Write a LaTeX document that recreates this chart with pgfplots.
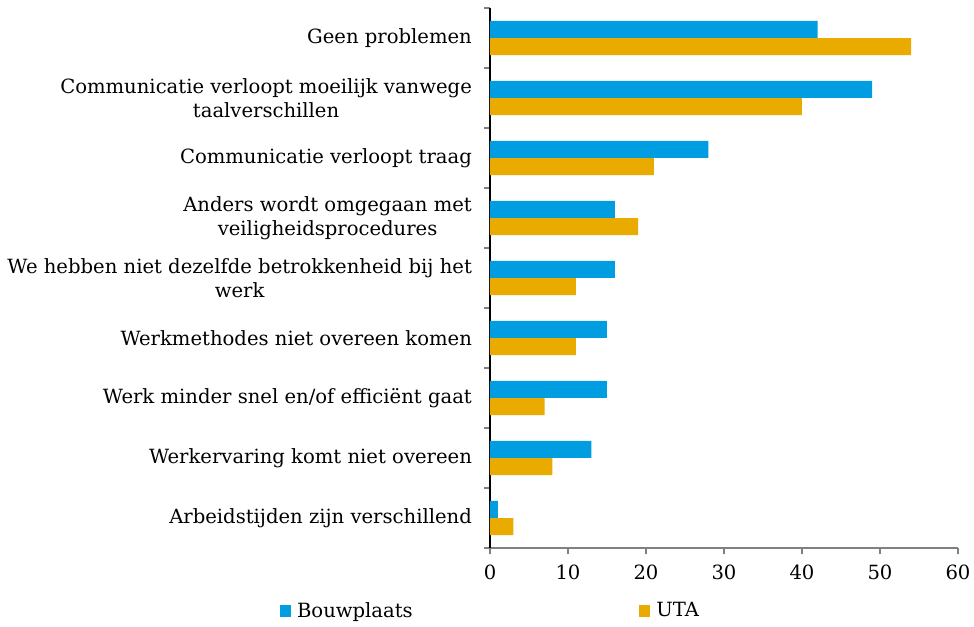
\documentclass[border=0pt]{standalone}
\usepackage{pgfplots}
\pgfplotsset{compat=1.18}
\usepackage{fontspec}
\setmainfont{DejaVu Serif}
\definecolor{cblue}{RGB}{0,157,224}
\definecolor{corange}{RGB}{233,171,0}
\definecolor{axgray}{RGB}{128,128,128}
\begin{document}
\fontsize{14.7pt}{18pt}\selectfont
\begin{tikzpicture}
\begin{axis}[
  at={(0,0)}, anchor=south west,
  scale only axis,
  width=351pt, height=405pt,
  xbar, bar width=12.75pt,
  xmin=0, xmax=60, ymin=-0.5, ymax=8.5,
  xtick={0,10,...,60},
  ytick={0,...,8},
  yticklabels={{Arbeidstijden zijn verschillend},{Werkervaring komt niet overeen},{Werk minder snel en/of efficiënt gaat},{Werkmethodes niet overeen komen},{We hebben niet dezelfde betrokkenheid bij het\\werk},{Anders wordt omgegaan met\\veiligheidsprocedures},{Communicatie verloopt traag},{Communicatie verloopt moeilijk vanwege\\taalverschillen},{Geen problemen}},
  yticklabel style={align=center, font=\fontsize{14.7pt}{18.3pt}\selectfont, xshift=-4pt},
  xticklabel style={font=\fontsize{14.7pt}{18pt}\selectfont, yshift=-3pt},
  /pgf/number format/assume math mode=true,
  minor ytick={-0.5,0.5,...,8.5},
  tick align=outside,
  major tick length=4.5pt, minor tick length=4.5pt,
  major y tick style={draw=none},
  minor y tick style={axgray, line width=0.9pt},
  major x tick style={axgray, line width=0.9pt},
  axis x line*=bottom, axis y line*=left,
  x axis line style={axgray, line width=1pt, -},
  y axis line style={black, line width=0.8pt, -},
  legend columns=2,
  legend style={at={(-0.449,-0.1167)}, anchor=west, draw=none, inner sep=0pt,
    font=\fontsize{14.7pt}{18pt}\selectfont,
    /tikz/every odd column/.append style={column sep=2.5pt},
    /tikz/every even column/.append style={column sep=168pt}},
  legend image code/.code={\fill[#1] (0pt,-4.2pt) rectangle (8.2pt,4.2pt);},
]
\addplot[fill=cblue, draw=none, bar shift=6.4pt] coordinates {
(1,0) (13,1) (15,2) (15,3) (16,4) (16,5) (28,6) (49,7) (42,8)};
\addlegendentry{Bouwplaats}
\addplot[fill=corange, draw=none, bar shift=-6.4pt] coordinates {
(3,0) (8,1) (7,2) (11,3) (11,4) (19,5) (21,6) (40,7) (54,8)};
\addlegendentry{UTA}
\end{axis}
\pgfresetboundingbox
\path[use as bounding box] (-367.5pt,-58.5pt) rectangle (363pt,411pt);
\end{tikzpicture}
\end{document}
